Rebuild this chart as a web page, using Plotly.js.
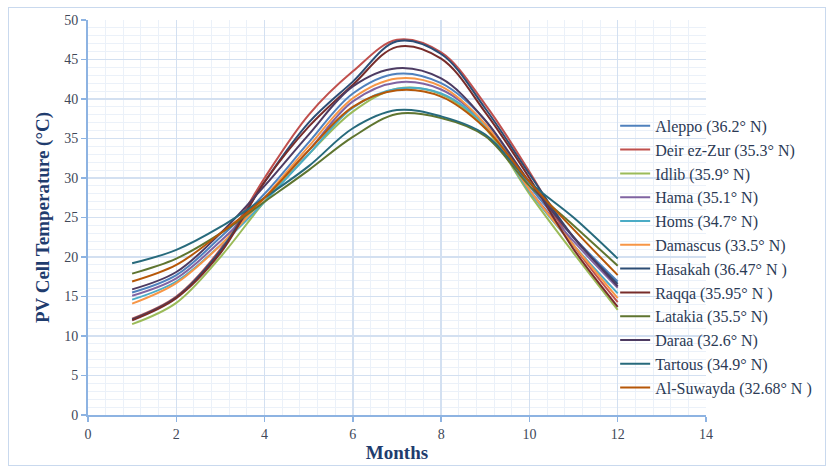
<!DOCTYPE html>
<html>
<head>
<meta charset="utf-8">
<script src="https://cdn.plot.ly/plotly-3.0.1.min.js"></script>
<style>
html,body{margin:0;padding:0;background:#fff;}
#chart{width:829px;height:469px;position:absolute;left:0;top:0;}
#frame{position:absolute;left:8px;top:7px;width:818px;height:459px;border:1px solid #C9D9EE;pointer-events:none;box-sizing:border-box;}
</style>
</head>
<body>
<div id="chart"></div>
<div id="frame"></div>
<script>
const months = [1,2,3,4,5,6,7,8,9,10,11,12];

const seriesNames = [
  "Aleppo (36.2° N)",
  "Deir ez-Zur (35.3° N)",
  "Idlib (35.9° N)",
  "Hama (35.1° N)",
  "Homs (34.7° N)",
  "Damascus (33.5° N)",
  "Hasakah (36.47° N )",
  "Raqqa (35.95° N )",
  "Latakia (35.5° N)",
  "Daraa (32.6° N)",
  "Tartous (34.9° N)",
  "Al-Suwayda (32.68° N )"
];

const aleppo     = [15.5, 17.7, 22.5, 28.0, 34.5, 40.7, 43.2, 42.0, 37.3, 29.0, 22.5, 16.9];
const deirEzZur  = [12.2, 15.0, 21.0, 30.0, 38.0, 43.5, 47.5, 45.9, 39.3, 30.8, 21.5, 14.3];
const idlib      = [11.5, 14.2, 20.0, 27.0, 33.0, 38.4, 41.3, 40.6, 36.3, 28.0, 20.5, 13.3];
const hama       = [15.1, 17.3, 22.0, 27.5, 33.5, 39.7, 42.1, 41.2, 36.8, 28.5, 22.0, 16.1];
const homs       = [14.6, 16.9, 21.5, 27.0, 33.0, 38.9, 41.3, 40.7, 36.6, 28.3, 21.5, 15.4];
const damascus   = [14.1, 16.7, 21.5, 27.5, 34.0, 40.1, 42.6, 41.6, 36.8, 28.5, 21.5, 14.8];
const hasakah    = [12.1, 14.9, 20.8, 29.5, 37.0, 42.2, 47.3, 45.7, 38.8, 30.5, 22.5, 16.6];
const raqqa      = [12.0, 14.8, 20.5, 29.5, 36.5, 41.8, 46.6, 45.1, 38.3, 30.0, 21.0, 13.7];
const latakia    = [17.9, 19.8, 23.0, 27.0, 31.0, 35.2, 38.1, 37.6, 35.3, 29.0, 24.0, 18.9];
const daraa      = [15.9, 18.1, 23.0, 29.0, 35.5, 41.6, 43.9, 42.6, 37.3, 29.5, 22.5, 16.3];
const tartous    = [19.2, 20.9, 23.8, 27.5, 31.5, 36.3, 38.6, 37.8, 35.5, 29.5, 25.0, 19.8];
const alSuwayda  = [16.9, 19.0, 23.0, 27.5, 33.5, 39.0, 41.1, 40.3, 36.3, 29.5, 23.5, 17.7];

const seriesValues = [aleppo, deirEzZur, idlib, hama, homs, damascus, hasakah, raqqa, latakia, daraa, tartous, alSuwayda];

const colors = ["#4F81BD","#C0504D","#9BBB59","#8064A2","#4BACC6","#F79646",
                "#2C4D75","#772C2A","#5F7530","#4D3B62","#276A7C","#B65708"];

const xTicks = [0,2,4,6,8,10,12,14];
const yTicks = [0,5,10,15,20,25,30,35,40,45,50];

const traces = seriesNames.map((n,i)=>({
  x: months, y: seriesValues[i], name: n, type: 'scatter', mode: 'lines',
  line: {color: colors[i], width: 2, shape: 'spline', smoothing: 1},
  hoverinfo: 'skip'
}));

const font = "Liberation Serif, Times New Roman, serif";

const layout = {
  width: 829, height: 469,
  margin: {l: 88, r: 123, t: 20, b: 54},
  paper_bgcolor: 'rgba(0,0,0,0)', plot_bgcolor: '#fff',
  font: {family: font, color: '#404858', size: 14},
  showlegend: true,
  legend: {
    x: 0.853, y: 0.775, xanchor: 'left', yanchor: 'top',
    bgcolor: 'rgba(0,0,0,0)',
    font: {family: font, size: 16, color: '#2B3A55'},
    itemwidth: 30, traceorder: 'normal'
  },
  xaxis: {
    range: [0, 14], tickvals: xTicks, ticktext: xTicks.map(String),
    showline: true, linecolor: '#8DB3E2', linewidth: 2,
    ticks: 'outside', ticklen: 5, tickcolor: '#8DB3E2', tickwidth: 1.5,
    showgrid: true, gridcolor: '#D3E0F1', gridwidth: 1.5,
    minor: {dtick: 0.4, showgrid: true, gridcolor: '#EBF1F9', gridwidth: 1},
    zeroline: false,
    tickfont: {family: font, size: 14, color: '#404858'},
    title: {text: 'Months', standoff: 5, font: {family: font, size: 19, color: '#1F3C6E', weight: 'bold'}}
  },
  yaxis: {
    range: [0, 50], tickvals: yTicks, ticktext: yTicks.map(String),
    showline: true, linecolor: '#8DB3E2', linewidth: 2,
    ticks: 'outside', ticklen: 5, tickcolor: '#8DB3E2', tickwidth: 1.5,
    showgrid: true, gridcolor: '#D3E0F1', gridwidth: 1.5,
    minor: {dtick: 1, showgrid: true, gridcolor: '#EBF1F9', gridwidth: 1},
    zeroline: false,
    tickfont: {family: font, size: 14, color: '#404858'},
    title: {text: 'PV Cell Temperature (°C)', standoff: 10, font: {family: font, size: 19, color: '#1F3C6E', weight: 'bold'}}
  }
};

Plotly.newPlot('chart', traces, layout, {staticPlot: true, displayModeBar: false});
</script>
</body>
</html>
